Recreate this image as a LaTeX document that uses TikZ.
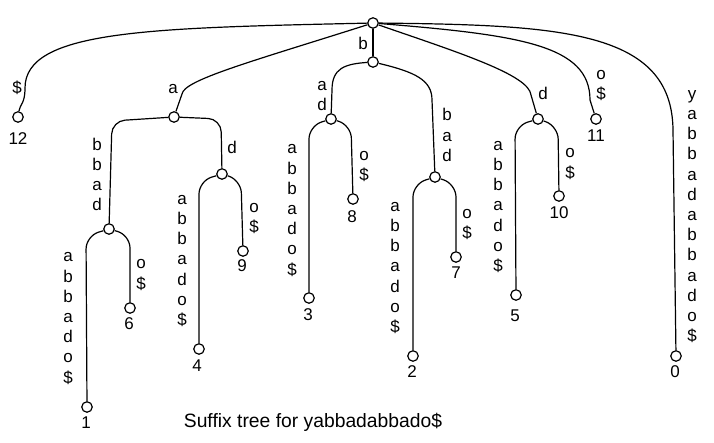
\documentclass[tikz,border=0pt]{standalone}
\usepackage{fontspec}
\setmainfont{Liberation Sans}
\begin{document}
\begin{tikzpicture}[x=1pt,y=-1pt]
\tikzset{
  vtx/.style={circle, draw, fill=white, minimum size=10.5pt, inner sep=0pt, line width=1.2pt},
  edge/.style={line width=1.2pt},
  elbow/.style={edge, rounded corners=13pt},
  lbl/.style={font=\fontsize{17}{20.2}\selectfont, align=center, inner sep=0pt},
  num/.style={font=\fontsize{17}{20}\selectfont, inner sep=0pt},
  captext/.style={font=\fontsize{19.3}{23}\selectfont, inner sep=0pt}
}
\useasboundingbox (0,0) rectangle (714,443);
% vertices
\node[vtx] (root) at (373,23) {};
\node[vtx] (nb) at (373,62) {};
\node[vtx] (na) at (174,117) {};
\node[vtx] (nabbad) at (109,229) {};
\node[vtx] (nad2) at (222,174) {};
\node[vtx] (nad1) at (331,119) {};
\node[vtx] (nbad) at (435,177) {};
\node[vtx] (nd) at (538,119) {};
\node[vtx] (l12) at (18,117) {};
\node[vtx] (l1) at (87,407) {};
\node[vtx] (l6) at (130,308) {};
\node[vtx] (l4) at (199,349) {};
\node[vtx] (l9) at (243,251) {};
\node[vtx] (l3) at (309,298) {};
\node[vtx] (l8) at (353,199) {};
\node[vtx] (l2) at (413,356) {};
\node[vtx] (l7) at (456,257) {};
\node[vtx] (l5) at (516,295) {};
\node[vtx] (l10) at (559,196) {};
\node[vtx] (l11) at (596,119) {};
\node[vtx] (l0) at (676,356) {};
% edges from root
\draw[edge] (root) .. controls (150,28) and (25,30) .. (25,88) .. controls (25,104) and (20,104) .. (l12);
\draw[edge] (root) .. controls (250,62) and (184,80) .. (182,94) -- (na);
\draw[edge] (root) -- (nb);
\draw[edge] (root) .. controls (460,53) and (529,75) .. (531,95) -- (nd);
\draw[edge] (root) .. controls (520,35) and (590,45) .. (590,100) -- (l11);
\draw[edge] (root) .. controls (560,25) and (672,30) .. (673,130) -- (l0);
% edges from b
\draw[edge] (nb) .. controls (345,64) and (332,68) .. (332,90) -- (nad1);
\draw[edge] (nb) .. controls (415,72) and (432,80) .. (432,100) -- (nbad);
% elbows
\draw[elbow] (na) -- (112,121) -- (nabbad);
\draw[elbow] (na) -- (221,119) -- (nad2);
\draw[elbow] (nabbad) -- (86,236) -- (l1);
\draw[elbow] (nabbad) -- (130,235) -- (l6);
\draw[elbow] (nad2) -- (199,181) -- (l4);
\draw[elbow] (nad2) -- (241,180) -- (l9);
\draw[elbow] (nad1) -- (309,126) -- (l3);
\draw[elbow] (nad1) -- (351,125) -- (l8);
\draw[elbow] (nbad) -- (413,184) -- (l2);
\draw[elbow] (nbad) -- (456,184) -- (l7);
\draw[elbow] (nd) -- (515,126) -- (l5);
\draw[elbow] (nd) -- (558,126) -- (l10);
% edge labels
\node[lbl] (t12) at (17,88) {\$};
\node[lbl] (ta) at (173,89) {a};
\node[lbl] (tb) at (363,43) {b};
\node[lbl] (tad1) at (322,96) {a\\d};
\node[lbl] (tabbad) at (97,174.5) {b\\b\\a\\d};
\node[lbl] (tad2) at (232,147) {d};
\node[lbl] (t1) at (68,318.5) {a\\b\\b\\a\\d\\o\\\$};
\node[lbl] (t6) at (141,275) {o\\\$};
\node[lbl] (t4) at (182,261) {a\\b\\b\\a\\d\\o\\\$};
\node[lbl] (t9) at (254,218.5) {o\\\$};
\node[lbl] (t3) at (292,210.5) {a\\b\\b\\a\\d\\o\\\$};
\node[lbl] (t8) at (364,166.5) {o\\\$};
\node[lbl] (tbad) at (447,135) {b\\a\\d};
\node[lbl] (t2) at (395,268) {a\\b\\b\\a\\d\\o\\\$};
\node[lbl] (t7) at (467,224.5) {o\\\$};
\node[lbl] (td) at (543,93) {d};
\node[lbl] (t11) at (601,85.5) {o\\\$};
\node[lbl] (t5) at (498,207) {a\\b\\b\\a\\d\\o\\\$};
\node[lbl] (t10) at (570,164) {o\\\$};
\node[lbl] (t0) at (692,216.5) {y\\a\\b\\b\\a\\d\\a\\b\\b\\a\\d\\o\\\$};
% leaf numbers
\node[num] (n12) at (18,139) {12};
\node[num] (n1) at (86,423) {1};
\node[num] (n6) at (129,324) {6};
\node[num] (n4) at (197,366) {4};
\node[num] (n9) at (242,266) {9};
\node[num] (n3) at (308,315) {3};
\node[num] (n8) at (352,217) {8};
\node[num] (n2) at (412,372) {2};
\node[num] (n7) at (456,273) {7};
\node[num] (n5) at (515,316) {5};
\node[num] (n10) at (559,213) {10};
\node[num] (n11) at (596,136) {11};
\node[num] (n0) at (675,372) {0};
% caption
\node[captext] (caption) at (313,422) {Suffix tree for yabbadabbado\$};
\end{tikzpicture}
\end{document}
